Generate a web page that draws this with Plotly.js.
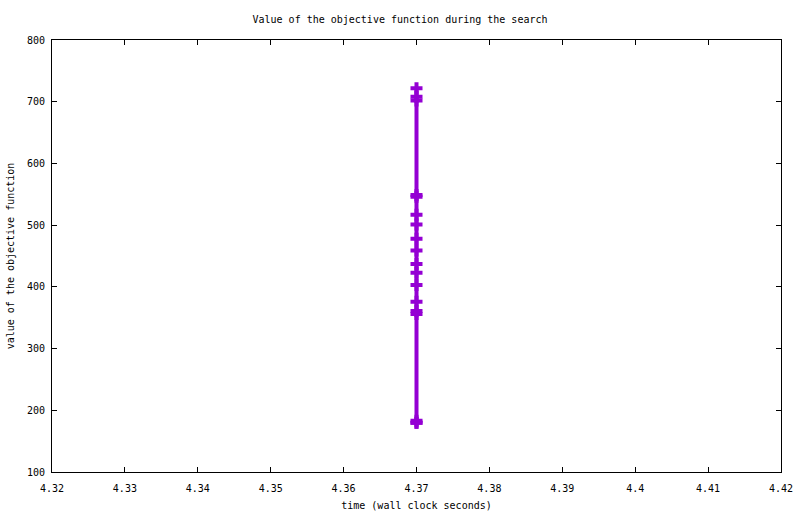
<!DOCTYPE html>
<html>
<head>
<meta charset="utf-8">
<script src="https://cdn.plot.ly/plotly-3.0.1.min.js"></script>
<style>html,body{margin:0;padding:0;background:#fff;}#chart{width:800px;height:514px;}</style>
</head>
<body>
<div id="chart"></div>
<script>
// data: objective value samples, all at the same wall clock time
const times = [4.37, 4.37, 4.37, 4.37, 4.37, 4.37, 4.37, 4.37, 4.37, 4.37, 4.37, 4.37, 4.37, 4.37, 4.37, 4.37, 4.37, 4.37];
const values = [722, 708, 702, 549, 546, 517, 501, 478, 459, 437, 423, 403, 376, 361, 356, 183, 180, 180];
const xTicks = [4.32, 4.33, 4.34, 4.35, 4.36, 4.37, 4.38, 4.39, 4.4, 4.41, 4.42];
const xTickLabels = ["4.32", "4.33", "4.34", "4.35", "4.36", "4.37", "4.38", "4.39", "4.4", "4.41", "4.42"];
const yTicks = [100, 200, 300, 400, 500, 600, 700, 800];

const font = {family: '"DejaVu Sans Mono", "Liberation Mono", monospace', size: 10, color: '#000'};
const purple = '#9400D3';

Plotly.newPlot('chart', [{
  x: times,
  y: values,
  type: 'scatter',
  mode: 'lines+markers',
  line: {color: purple, width: 4},
  marker: {symbol: 'cross', size: 10, color: purple, line: {width: 0}},
  showlegend: false,
  hoverinfo: 'skip'
}], {
  width: 800,
  height: 514,
  margin: {l: 52, r: 19, t: 40, b: 42},
  paper_bgcolor: '#fff',
  plot_bgcolor: '#fff',
  font: font,
  title: {text: 'Value of the objective function during the search', font: font, x: 0.5, xanchor: 'center', yref: 'container', y: 0.962, yanchor: 'middle'},
  xaxis: {
    range: [4.32, 4.42],
    tickvals: xTicks,
    ticktext: xTickLabels,
    ticks: 'inside', ticklen: 5, tickwidth: 1, tickcolor: '#000',
    showline: true, linecolor: '#000', linewidth: 1, mirror: 'allticks',
    showgrid: false, zeroline: false,
    tickfont: font,
    ticklabelstandoff: 7,
    title: {text: 'time (wall clock seconds)', font: font, standoff: 8}
  },
  yaxis: {
    range: [100, 800],
    tickvals: yTicks,
    ticks: 'inside', ticklen: 5, tickwidth: 1, tickcolor: '#000',
    showline: true, linecolor: '#000', linewidth: 1, mirror: 'allticks',
    showgrid: false, zeroline: false,
    tickfont: font,
    ticklabelstandoff: 4,
    title: {text: 'value of the objective function', font: font, standoff: 10}
  }
}, {staticPlot: true, displayModeBar: false});
</script>
</body>
</html>
